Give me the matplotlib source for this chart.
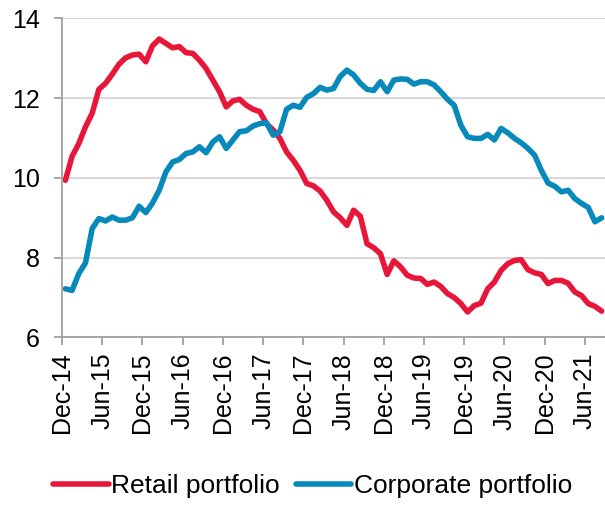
import matplotlib
matplotlib.use("Agg")
import matplotlib.pyplot as plt

plt.rcParams['font.family'] = ['Liberation Sans', 'DejaVu Sans']

# Monthly series, Dec-14 to Aug-21
retail = [9.94, 10.54, 10.86, 11.28, 11.62, 12.22, 12.37, 12.60, 12.85, 13.01,
          13.08, 13.10, 12.91, 13.31, 13.48, 13.37, 13.26, 13.29, 13.14, 13.12,
          12.95, 12.74, 12.45, 12.16, 11.78, 11.93, 11.97, 11.82, 11.72, 11.66,
          11.36, 11.20, 10.99, 10.65, 10.44, 10.19, 9.86, 9.80, 9.67, 9.44,
          9.15, 9.00, 8.81, 9.19, 9.04, 8.35, 8.25, 8.10, 7.58, 7.92,
          7.77, 7.56, 7.49, 7.48, 7.33, 7.39, 7.28, 7.10, 7.00, 6.85,
          6.64, 6.80, 6.86, 7.22, 7.39, 7.68, 7.85, 7.93, 7.95, 7.70,
          7.62, 7.58, 7.35, 7.43, 7.43, 7.36, 7.14, 7.05, 6.85, 6.78,
          6.66]
corporate = [7.22, 7.18, 7.60, 7.87, 8.73, 8.98, 8.92, 9.02, 8.94, 8.94,
             9.00, 9.29, 9.13, 9.37, 9.69, 10.15, 10.40, 10.46, 10.61, 10.65,
             10.78, 10.63, 10.90, 11.03, 10.74, 10.95, 11.16, 11.18, 11.30, 11.36,
             11.38, 11.07, 11.16, 11.72, 11.82, 11.77, 12.02, 12.11, 12.27, 12.20,
             12.24, 12.54, 12.70, 12.58, 12.37, 12.22, 12.19, 12.41, 12.16, 12.45,
             12.48, 12.47, 12.35, 12.41, 12.41, 12.33, 12.16, 11.97, 11.82, 11.32,
             11.03, 10.99, 10.99, 11.09, 10.95, 11.24, 11.13, 10.99, 10.88, 10.74,
             10.57, 10.19, 9.87, 9.79, 9.65, 9.69, 9.48, 9.36, 9.26, 8.90,
             9.00]
tick_labels = ['Dec-14', 'Jun-15', 'Dec-15', 'Jun-16', 'Dec-16', 'Jun-17', 'Dec-17',
               'Jun-18', 'Dec-18', 'Jun-19', 'Dec-19', 'Jun-20', 'Dec-20', 'Jun-21']

red = '#E8173A'
blue = '#0889BC'
grey = '#A0A0A0'

fig = plt.figure(figsize=(6.05, 5.05), dpi=100)
ax = fig.add_axes([0.1025, 0.3317, 0.8975, 0.6321])

months = range(len(retail))
ax.plot(months, retail, color=red, lw=4, label='Retail portfolio',
        solid_joinstyle='round', solid_capstyle='round')
ax.plot(months, corporate, color=blue, lw=4, label='Corporate portfolio',
        solid_joinstyle='round', solid_capstyle='round')

ax.set_xlim(-0.5, len(retail) - 0.5)
ax.set_ylim(6, 14)
ax.set_yticks([6, 8, 10, 12, 14])
# category boundaries: each label sits on the tick before its month
ax.set_xticks([6 * i - 0.5 for i in range(len(tick_labels))])
ax.set_xticklabels(tick_labels, rotation=90)

ax.grid(axis='y', color='#D9D9D9', lw=1.5)
ax.set_axisbelow(True)
for side in ('top', 'right'):
    ax.spines[side].set_visible(False)
for side in ('left', 'bottom'):
    ax.spines[side].set_color(grey)
    ax.spines[side].set_linewidth(1.3)
ax.tick_params(axis='both', colors=grey, width=1.3, length=6, labelcolor='black',
               labelsize=18)
ax.tick_params(axis='y', pad=10)
ax.tick_params(axis='x', pad=5)

fig.legend(loc='center', bbox_to_anchor=(0.517, 0.038), ncol=2, frameon=False,
           fontsize=19, handlelength=2.1, handletextpad=0.1, columnspacing=0.6)

fig.savefig('out.png', dpi=100)
